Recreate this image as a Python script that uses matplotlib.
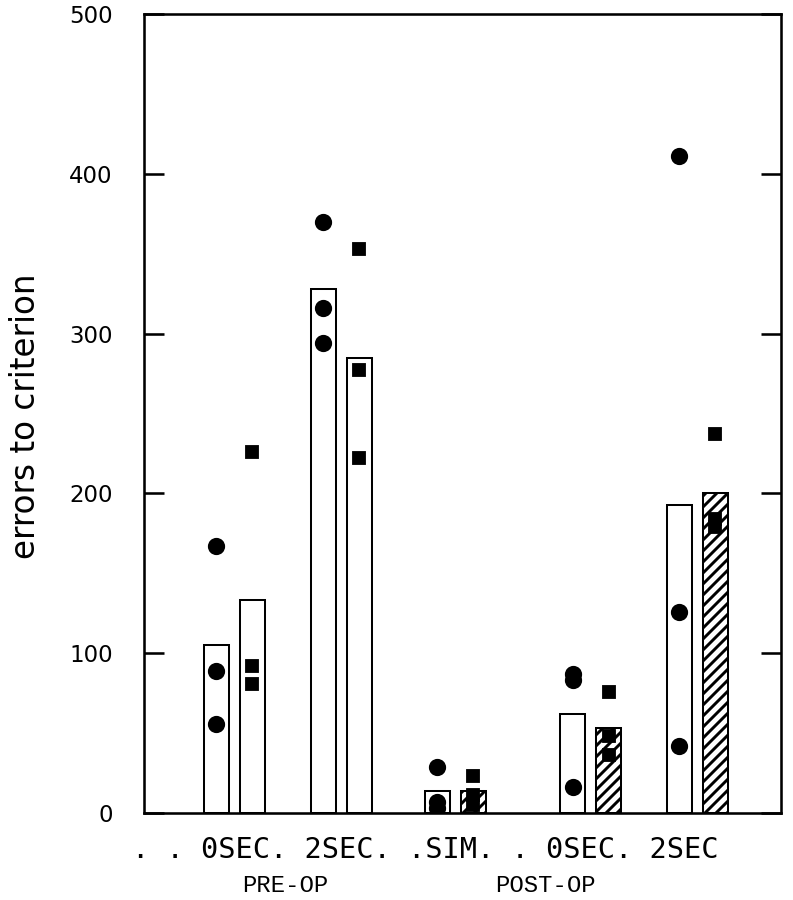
import matplotlib
matplotlib.use('Agg')
import matplotlib.pyplot as plt

# 数据：每组两根柱（空心 / 第二根），以及每只动物的散点
groups = ['PRE 0SEC', 'PRE 2SEC', 'SIM', 'POST 0SEC', 'POST 2SEC']
bar_open = [105, 328, 14, 62, 193]
bar_second = [133, 285, 14, 53, 200]
second_hatched = [False, False, True, True, True]

circles = [[167, 89, 56], [370, 316, 294], [29, 7, 3], [87, 83, 16], [411, 126, 42]]
squares = [[226, 92, 81], [353, 277, 222], [23, 11, 5], [76, 48, 36], [237, 184, 179]]

row_labels = ['.', '.', '0SEC.', '2SEC.', '.SIM.', '.', '0SEC.', '2SEC']
yticks = [0, 100, 200, 300, 400, 500]

# 版面（像素换算）
W, H, DPI = 793, 900, 132
group_x = [90, 197, 311, 446.5, 553]
off = 18
bw = 25

plt.rcParams['hatch.linewidth'] = 1.6

fig = plt.figure(figsize=(W / DPI, H / DPI), dpi=DPI)
ax = fig.add_axes([144 / W, 87 / H, 637 / W, 799 / H])

for i, gx in enumerate(group_x):
    ax.bar(gx - off, bar_open[i], width=bw, facecolor='white', edgecolor='black',
           linewidth=1.1, zorder=2)
    ax.bar(gx + off, bar_second[i], width=bw, facecolor='white', edgecolor='black',
           linewidth=1.1, hatch='////' if second_hatched[i] else None, zorder=2)
    ax.plot([gx - off] * len(circles[i]), circles[i], 'o', color='black', ms=8.4,
            zorder=3)
    ax.plot([gx + off] * len(squares[i]), squares[i], 's', color='black', ms=6.5,
            zorder=3)

ax.set_xlim(0, 637)
ax.set_ylim(0, 500)
ax.set_xticks([])
ax.set_yticks(yticks)
ax.set_yticklabels([str(v) for v in yticks], fontsize=12.5, family='DejaVu Sans')
ax.tick_params(axis='y', direction='in', length=11, width=1.4, pad=17,
               right=True, labelright=False)
for s in ax.spines.values():
    s.set_linewidth(1.4)

fig.text(26 / W, 1 - 416 / H, 'errors to criterion', rotation=90, fontsize=17.8,
         ha='center', va='center', family='DejaVu Sans')

fig.text(132 / W, 1 - 858 / H, ' '.join(row_labels), fontsize=15.6,
         family='DejaVu Sans Mono', ha='left', va='baseline')
fig.text(285 / W, 1 - 892 / H, 'PRE-OP', fontsize=13, family='Liberation Mono',
         ha='center', va='baseline')
fig.text(545 / W, 1 - 892 / H, 'POST-OP', fontsize=13, family='Liberation Mono',
         ha='center', va='baseline')

plt.savefig('out.png', dpi=DPI)
